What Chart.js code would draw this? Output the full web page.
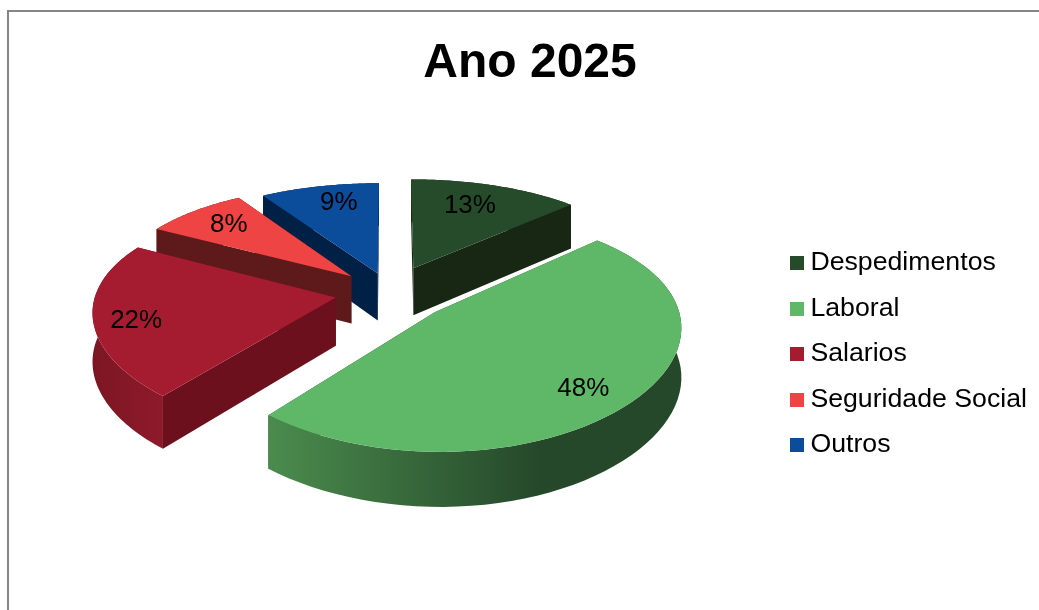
<!DOCTYPE html>
<html>
<head>
<meta charset="utf-8">
<script src="https://cdn.jsdelivr.net/npm/chart.js@4"></script>
<style>
  body { margin: 0; background: #fff; overflow: hidden; }
  #frame { position: absolute; left: 7px; top: 10px; width: 1100px; height: 700px; border-left: 2px solid #868686; border-top: 2px solid #868686; }
  #chart { position: absolute; left: 0; top: 0; }
</style>
</head>
<body>
<div id="frame"></div>
<canvas id="chart" width="1039" height="610"></canvas>
<script>
// ================= data =================
const categories = ["Despedimentos", "Laboral", "Salarios", "Seguridade Social", "Outros"];
const percentages = [13, 48, 22, 8, 9];
const chartTitle = "Ano 2025";

// ================= colours =================
const topColors = ["#264b2a", "#5fb868", "#a51c30", "#ee4444", "#0b4c9b"];
const cutColors = ["#172713", "#25482a", "#6b101c", "#5e1a1b", "#012045"];

// ================= fake 3D camera =================
const tilt = 0.46;        // squash of the pie plane
const focal = 1500;       // perspective, up and down
const focalX = 2200;      // perspective, sideways and for the thickness
const depth = 48;         // thickness of the pie
const shiftX = -10;
const shiftY = -59;
const legendShift = { x: -2, y: 49 };
const drawOrder = [4, 0, 3, 2, 1];  // back to front
const labelSpots = [[0.46, 0.725], [0.52, 0.81], [0.457, 0.83], [0.51, 0.77], [0.58, 0.78]]; // [share of sweep, share of radius]

function plane(arc, angle, frac) {
  const mid = (arc.startAngle + arc.endAngle) / 2;
  const off = arc.options.offset;
  return {
    u: Math.cos(angle) * arc.outerRadius * frac + Math.cos(mid) * off,
    v: Math.sin(angle) * arc.outerRadius * frac + Math.sin(mid) * off
  };
}

function project(arc, angle, frac, drop = 0) {
  const p = plane(arc, angle, frac);
  const s = focal / (focal - p.v);
  const sx = focalX / (focalX - p.v);
  return { x: arc.x + shiftX + p.u * sx, y: arc.y + shiftY + tilt * p.v * s + drop * sx };
}

function arcPoints(arc, drop = 0) {
  const pts = [];
  const steps = 60;
  for (let i = 0; i <= steps; i++) {
    pts.push(project(arc, arc.startAngle + (arc.endAngle - arc.startAngle) * i / steps, 1, drop));
  }
  return pts;
}

function fillPoly(ctx, pts, color) {
  ctx.beginPath();
  pts.forEach((p, i) => i ? ctx.lineTo(p.x, p.y) : ctx.moveTo(p.x, p.y));
  ctx.closePath();
  ctx.fillStyle = color;
  ctx.fill();
}

function wallColor(ctx, i) {
  if (i === 1) {
    const g = ctx.createLinearGradient(271, 0, 540, 0);
    g.addColorStop(0, "#4a8b4d");
    g.addColorStop(1, "#25482a");
    return g;
  }
  if (i === 2) {
    const g = ctx.createLinearGradient(95, 0, 165, 0);
    g.addColorStop(0, "#7d1623");
    g.addColorStop(1, "#8e1a2a");
    return g;
  }
  return cutColors[i];
}

const pie3d = {
  id: "pie3d",
  afterLayout(chart) {
    chart.legend.left += legendShift.x;
    chart.legend.right += legendShift.x;
    chart.legend.top += legendShift.y;
    chart.legend.bottom += legendShift.y;
  },
  beforeDatasetDraw: () => false,
  afterDatasetsDraw(chart) {
    const ctx = chart.ctx;
    const arcs = chart.getDatasetMeta(0).data;
    drawOrder.forEach(i => {
      const arc = arcs[i];
      const top = arcPoints(arc);
      const low = arcPoints(arc, depth);
      const apex = project(arc, arc.startAngle, 0);
      const apexLow = project(arc, arc.startAngle, 0, depth);
      fillPoly(ctx, [apex, top[0], low[0], apexLow], cutColors[i]);
      fillPoly(ctx, [apex, top[top.length - 1], low[low.length - 1], apexLow], cutColors[i]);
      fillPoly(ctx, top.concat(low.slice().reverse()), wallColor(ctx, i));
      fillPoly(ctx, [apex].concat(top), topColors[i]);
    });
    ctx.save();
    ctx.font = "26px 'Liberation Sans'";
    ctx.fillStyle = "#000";
    ctx.textAlign = "center";
    ctx.textBaseline = "middle";
    arcs.forEach((arc, i) => {
      const a = arc.startAngle + (arc.endAngle - arc.startAngle) * labelSpots[i][0];
      const p = project(arc, a, labelSpots[i][1]);
      ctx.fillText(percentages[i] + "%", p.x, p.y);
    });
    ctx.restore();
  }
};

function swatch(color) {
  const c = document.createElement("canvas");
  c.width = 14;
  c.height = 14;
  const g = c.getContext("2d");
  g.fillStyle = color;
  g.fillRect(0, 0, 14, 14);
  return c;
}

new Chart(document.getElementById("chart"), {
  type: "pie",
  plugins: [pie3d],
  data: {
    labels: categories,
    datasets: [{
      data: percentages,
      backgroundColor: topColors,
      borderWidth: 0,
      offset: [60, 60, 55, 54, 45]
    }]
  },
  options: {
    responsive: false,
    animation: false,
    radius: 240,
    layout: { padding: { left: 21 } },
    plugins: {
      tooltip: { enabled: false },
      title: {
        display: true,
        text: chartTitle,
        color: "#000",
        font: { family: "'Liberation Sans'", size: 48, weight: "bold" },
        padding: { top: 35, bottom: 1 }
      },
      legend: {
        position: "right",
        labels: {
          color: "#000",
          font: { family: "'Liberation Sans'", size: 26.7 },
          usePointStyle: true,
          pointStyleWidth: 1,
          boxHeight: 14,
          padding: 18.8,
          generateLabels(chart) {
            return Chart.overrides.pie.plugins.legend.labels.generateLabels(chart).map((l, i) => {
              l.pointStyle = swatch(topColors[i]);
              return l;
            });
          }
        }
      }
    }
  }
});
</script>
</body>
</html>
